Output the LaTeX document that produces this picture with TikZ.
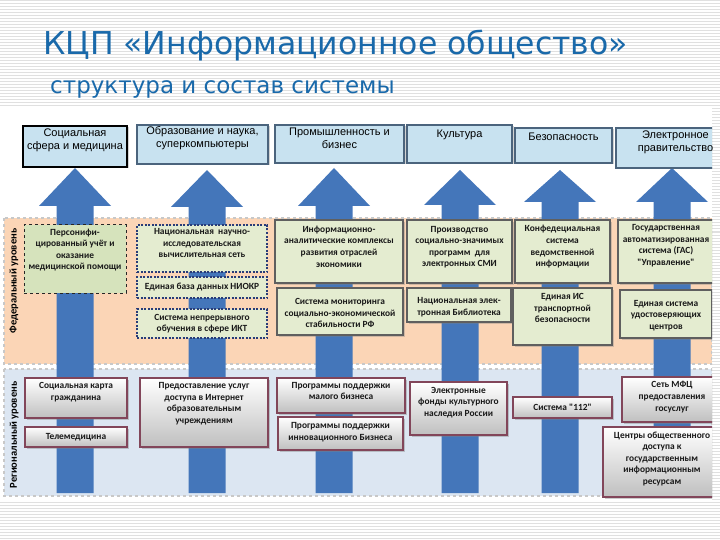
\documentclass[tikz,border=0pt]{standalone}
\usepackage{fontspec}
\setmainfont{Liberation Sans}
\newfontfamily\titlefont{DejaVu Sans}
\newfontfamily\boxfont{Carlito}
\usetikzlibrary{shadows}
\definecolor{titleblue}{RGB}{25,105,170}
\definecolor{arrowblue}{RGB}{68,118,186}
\definecolor{fedband}{RGB}{251,213,182}
\definecolor{regband}{RGB}{220,230,242}
\definecolor{topfill}{RGB}{200,226,240}
\definecolor{topline}{RGB}{75,100,125}
\definecolor{fedfill}{RGB}{228,236,208}
\definecolor{fedfillg}{RGB}{214,227,188}
\definecolor{fedline}{RGB}{95,95,95}
\definecolor{fedblue}{RGB}{40,60,120}
\definecolor{regline}{RGB}{130,70,90}
\definecolor{stripe}{RGB}{224,224,224}
\definecolor{bandline}{RGB}{200,200,200}
\tikzset{
  topbox/.style={draw=topline, line width=1.5pt, fill=topfill,
    drop shadow={shadow xshift=1.5pt, shadow yshift=-1.5pt, opacity=0.35}},
  fedsolid/.style={draw=fedline, line width=1.5pt, fill=fedfill,
    drop shadow={shadow xshift=2pt, shadow yshift=-2pt, opacity=0.35}},
  feddash/.style={draw=black!85, dashed, line width=1pt, fill=fedfillg},
  feddot/.style={draw=fedblue, dash pattern=on 2pt off 1.5pt, line width=1.2pt, fill=fedfill},
  regbox/.style={draw=regline, line width=1.3pt, top color=white, bottom color=black!25,
    drop shadow={shadow xshift=2pt, shadow yshift=-2pt, opacity=0.4}},
  toptext/.style={font=\fontsize{11}{13}\selectfont, align=center, inner sep=0pt, anchor=north},
  boxtext/.style={font=\boxfont\bfseries\fontsize{9.4}{11.6}\selectfont, align=center, inner sep=0pt, anchor=north, text=black!90},
  arrowfill/.style={fill=arrowblue},
  band/.style={draw=bandline, dashed, line width=1.5pt},
  levellabel/.style={font=\boxfont\bfseries\fontsize{10.5}{11}\selectfont, rotate=90, inner sep=0pt}
}
\begin{document}
\begin{tikzpicture}[x=1pt,y=-1pt]
\useasboundingbox (0,0) rectangle (720,540);
% striped background
\fill[white] (0,0) rectangle (720,540);
\foreach \yy in {1,4,...,539} \draw[stripe, line width=1pt] (0,\yy) -- (720,\yy);
\fill[white] (0,107) rectangle (712,500);
% title
\node[anchor=base west, text=titleblue, font=\titlefont\fontsize{31.5}{36}\selectfont, inner sep=0pt] (title) at (43,55) {КЦП «Информационное общество»};
\node[anchor=base west, text=titleblue, font=\titlefont\fontsize{23}{26}\selectfont, inner sep=0pt] (subtitle) at (50,94) {структура и состав системы};
\begin{scope}
\clip (0,100) rectangle (712,500);
% bands
\path[band, fill=fedband] (4,218) rectangle (712,364);
\path[band, fill=regband] (4,369) rectangle (712,496);
% arrows
\foreach \cx/\tip/\base in {75/168/206, 207/170/207, 334/168/206, 460/170/205, 560/170/202, 672/168/202}{
  \fill[arrowfill] (\cx,\tip) -- (\cx+36,\base) -- (\cx+18.5,\base) -- (\cx+18.5,493)
     -- (\cx-18.5,493) -- (\cx-18.5,\base) -- (\cx-36,\base) -- cycle;
}
% top boxes
\node[topbox, draw=black, minimum width=104pt, minimum height=41pt] (t1) at (75,146.5) {};
\node[topbox, minimum width=131pt, minimum height=39pt] (t2) at (202.5,144.5) {};
\node[topbox, minimum width=129pt, minimum height=38pt] (t3) at (339.5,144) {};
\node[topbox, minimum width=105pt, minimum height=38pt] (t4) at (459.5,144) {};
\node[topbox, minimum width=97pt, minimum height=35pt] (t5) at (563.5,145.5) {};
\node[topbox, minimum width=119pt, minimum height=40pt] (t6) at (675.5,148) {};
\node[toptext] (t1l) at ([yshift=-3pt]t1.north) {Социальная\\сфера и медицина};
\node[toptext] (t2l) at ([yshift=-2pt]t2.north) {Образование и наука,\\суперкомпьютеры};
\node[toptext] (t3l) at ([yshift=-3pt]t3.north) {Промышленность и\\бизнес};
\node[toptext] (t4l) at ([yshift=-5pt]t4.north) {Культура};
\node[toptext] (t5l) at ([yshift=-5pt]t5.north) {Безопасность};
\node[toptext] (t6l) at ([yshift=-3pt]t6.north) {Электронное\\правительство};
% federal boxes
\node[feddash, minimum width=102pt, minimum height=68pt] (f1) at (75,259) {};
\node[feddot, minimum width=130pt, minimum height=47pt] (f2a) at (202,248.5) {};
\node[feddot, minimum width=130pt, minimum height=21pt] (f2b) at (202,287.5) {};
\node[feddot, minimum width=130pt, minimum height=29pt] (f2c) at (202,323.5) {};
\node[fedsolid, minimum width=128pt, minimum height=63pt] (f3a) at (339,251.5) {};
\node[fedsolid, minimum width=126pt, minimum height=47pt] (f3b) at (340,311.5) {};
\node[fedsolid, minimum width=105pt, minimum height=63pt] (f4a) at (459.5,251.5) {};
\node[fedsolid, minimum width=104pt, minimum height=34pt] (f4b) at (459,305) {};
\node[fedsolid, minimum width=95pt, minimum height=63pt] (f5a) at (562.5,251.5) {};
\node[fedsolid, minimum width=99pt, minimum height=57pt] (f5b) at (562.5,316.5) {};
\node[fedsolid, minimum width=96pt, minimum height=63pt] (f6a) at (666,251.5) {};
\node[fedsolid, minimum width=92pt, minimum height=48pt] (f6b) at (666,314) {};
\node[boxtext] (f1l) at ([yshift=-4pt]f1.north) {Персонифи-\\цированный учёт и\\оказание\\медицинской помощи};
\node[boxtext] (f2al) at ([yshift=-4pt]f2a.north) {Национальная\ \ научно-\\исследовательская\\вычислительная сеть};
\node[boxtext, anchor=center] (f2bl) at (f2b.center) {Единая база данных НИОКР};
\node[boxtext, anchor=center] (f2cl) at (f2c.center) {Система непрерывного\\обучения в сфере ИКТ};
\node[boxtext] (f3al) at ([yshift=-6.5pt]f3a.north) {Информационно-\\аналитические комплексы\\развития отраслей\\экономики};
\node[boxtext, anchor=center] (f3bl) at ([yshift=-1.5pt]f3b.center) {Система мониторинга\\социально-экономической\\стабильности РФ};
\node[boxtext] (f4al) at ([yshift=-6.5pt]f4a.north) {Производство\\социально-значимых\\программ\ \ для\\электронных СМИ};
\node[boxtext, anchor=center] (f4bl) at ([yshift=-2pt]f4b.center) {Национальная элек-\\тронная Библиотека};
\node[boxtext] (f5al) at ([yshift=-6pt]f5a.north) {Конфедециальная\\система\\ведомственной\\информации};
\node[boxtext] (f5bl) at ([yshift=-6pt]f5b.north) {Единая ИС\\транспортной\\безопасности};
\node[boxtext] (f6al) at ([yshift=-5pt]f6a.north) {Государственная\\автоматизированная\\система (ГАС)\\"Управление"};
\node[boxtext, anchor=center] (f6bl) at ([yshift=-1.5pt]f6b.center) {Единая система\\удостоверяющих\\центров};
% regional boxes
\node[regbox, minimum width=102pt, minimum height=40pt] (r1a) at (76,398) {};
\node[regbox, minimum width=102pt, minimum height=20pt] (r1b) at (76,437) {};
\node[regbox, minimum width=128pt, minimum height=69pt] (r2) at (204,412.5) {};
\node[regbox, minimum width=128pt, minimum height=35pt] (r3a) at (341,395.5) {};
\node[regbox, minimum width=125pt, minimum height=33pt] (r3b) at (340.5,433.5) {};
\node[regbox, minimum width=97pt, minimum height=53pt] (r4) at (458.5,408.5) {};
\node[regbox, minimum width=99pt, minimum height=21pt] (r5) at (562.5,407.5) {};
\node[regbox, minimum width=100pt, minimum height=45pt] (r6a) at (672,399.5) {};
\node[regbox, minimum width=118pt, minimum height=70pt] (r6b) at (662,462) {};
\node[boxtext] (r1al) at ([yshift=-5pt]r1a.north) {Социальная карта\\гражданина};
\node[boxtext, anchor=center] (r1bl) at (r1b.center) {Телемедицина};
\node[boxtext] (r2l) at ([yshift=-5pt]r2.north) {Предоставление услуг\\доступа в Интернет\\образовательным\\учреждениям};
\node[boxtext] (r3al) at ([yshift=-4.5pt]r3a.north) {Программы поддержки\\малого бизнеса};
\node[boxtext] (r3bl) at ([yshift=-6pt]r3b.north) {Программы поддержки\\инновационного Бизнеса};
\node[boxtext] (r4l) at ([yshift=-5.5pt]r4.north) {Электронные\\фонды культурного\\наследия России};
\node[boxtext, anchor=center] (r5l) at (r5.center) {Система "112"};
\node[boxtext] (r6al) at ([yshift=-5pt]r6a.north) {Сеть МФЦ\\предоставления\\госуслуг};
\node[boxtext] (r6bl) at ([yshift=-5pt]r6b.north) {Центры общественного\\доступа к\\государственным\\информационным\\ресурсам};
% level labels
\node[levellabel] (fedlab) at (14,281) {Федеральный уровень};
\node[levellabel] (reglab) at (14,435) {Региональный уровень};
\end{scope}
\end{tikzpicture}
\end{document}
